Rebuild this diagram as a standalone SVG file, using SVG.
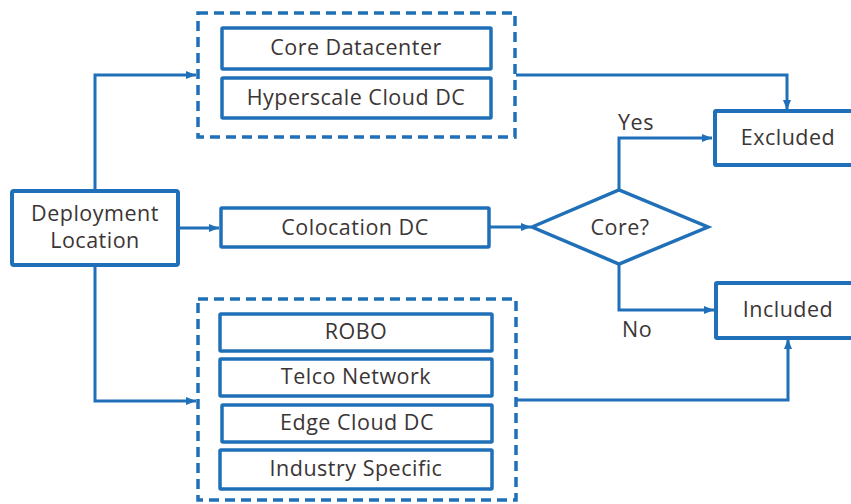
<svg xmlns="http://www.w3.org/2000/svg" width="851" height="504" viewBox="0 0 851 504">
<style>
.box{fill:#fff;stroke:#1f70b8;stroke-width:4}
.thin{fill:#fff;stroke:#1f70b8;stroke-width:3.5}
.grp{fill:none;stroke:#1f70b8;stroke-width:3.5;stroke-dasharray:10 6}
.ln{fill:none;stroke:#1f70b8;stroke-width:3}
text{font-family:"Open Sans","Noto Sans",sans-serif;font-size:21.5px;letter-spacing:0.5px;fill:#3b3535;text-anchor:middle}
</style>
<defs>
<marker id="ah" viewBox="0 0 10 10" refX="10" refY="5" markerWidth="10" markerHeight="10" markerUnits="userSpaceOnUse" orient="auto">
<path d="M0,1 L10,5 L0,9 Z" fill="#1f70b8"/>
</marker>
</defs>
<g id="connectors">
<path class="ln" d="M95,190 V75 H196" marker-end="url(#ah)"/>
<path class="ln" d="M95,265 V401 H196" marker-end="url(#ah)"/>
<path class="ln" d="M178,228 H219" marker-end="url(#ah)"/>
<path class="ln" d="M490,227 H531" marker-end="url(#ah)"/>
<path class="ln" d="M619,190 V138 H712" marker-end="url(#ah)"/>
<path class="ln" d="M619,264 V310 H714" marker-end="url(#ah)"/>
<path class="ln" d="M516,75 H787 V110" marker-end="url(#ah)"/>
<path class="ln" d="M517,400 H788 V339" marker-end="url(#ah)"/>
</g>
<g id="group-core"><rect class="grp" x="198" y="13" width="317" height="124"/></g>
<g id="group-edge"><rect class="grp" x="198" y="299" width="318" height="201"/></g>
<g id="deployment"><rect class="box" x="12" y="191" width="166" height="74" rx="2"/><text x="95" y="221">Deployment</text><text x="95" y="248">Location</text></g>
<g id="core-dc"><rect class="thin" x="222" y="28" width="269" height="41" rx="1"/><text x="356" y="55">Core Datacenter</text></g>
<g id="hyperscale"><rect class="thin" x="222" y="78" width="269" height="40" rx="1"/><text x="356" y="105">Hyperscale Cloud DC</text></g>
<g id="colocation"><rect class="thin" x="221" y="208" width="268" height="39" rx="1"/><text x="355" y="235">Colocation DC</text></g>
<g id="core-q"><path d="M532,227 L619,190 L708,227 L619,264 Z" fill="#fff" stroke="#1f70b8" stroke-width="3.5"/><text x="620" y="235">Core?</text></g>
<g id="excluded"><rect class="box" x="715" y="111" width="145" height="54" rx="1"/><text x="788" y="145">Excluded</text></g>
<g id="included"><rect class="box" x="716" y="283" width="145" height="55" rx="1"/><text x="788" y="317">Included</text></g>
<g id="robo"><rect class="thin" x="220" y="314" width="272" height="37" rx="1"/><text x="356" y="339">ROBO</text></g>
<g id="telco"><rect class="thin" x="220" y="359" width="272" height="37" rx="1"/><text x="356" y="384">Telco Network</text></g>
<g id="edge-cloud"><rect class="thin" x="222" y="405" width="270" height="37" rx="1"/><text x="357" y="430">Edge Cloud DC</text></g>
<g id="industry"><rect class="thin" x="220" y="450" width="272" height="39" rx="1"/><text x="356" y="476">Industry Specific</text></g>
<g id="labels"><text x="636" y="130">Yes</text><text x="637" y="337">No</text></g>
</svg>
